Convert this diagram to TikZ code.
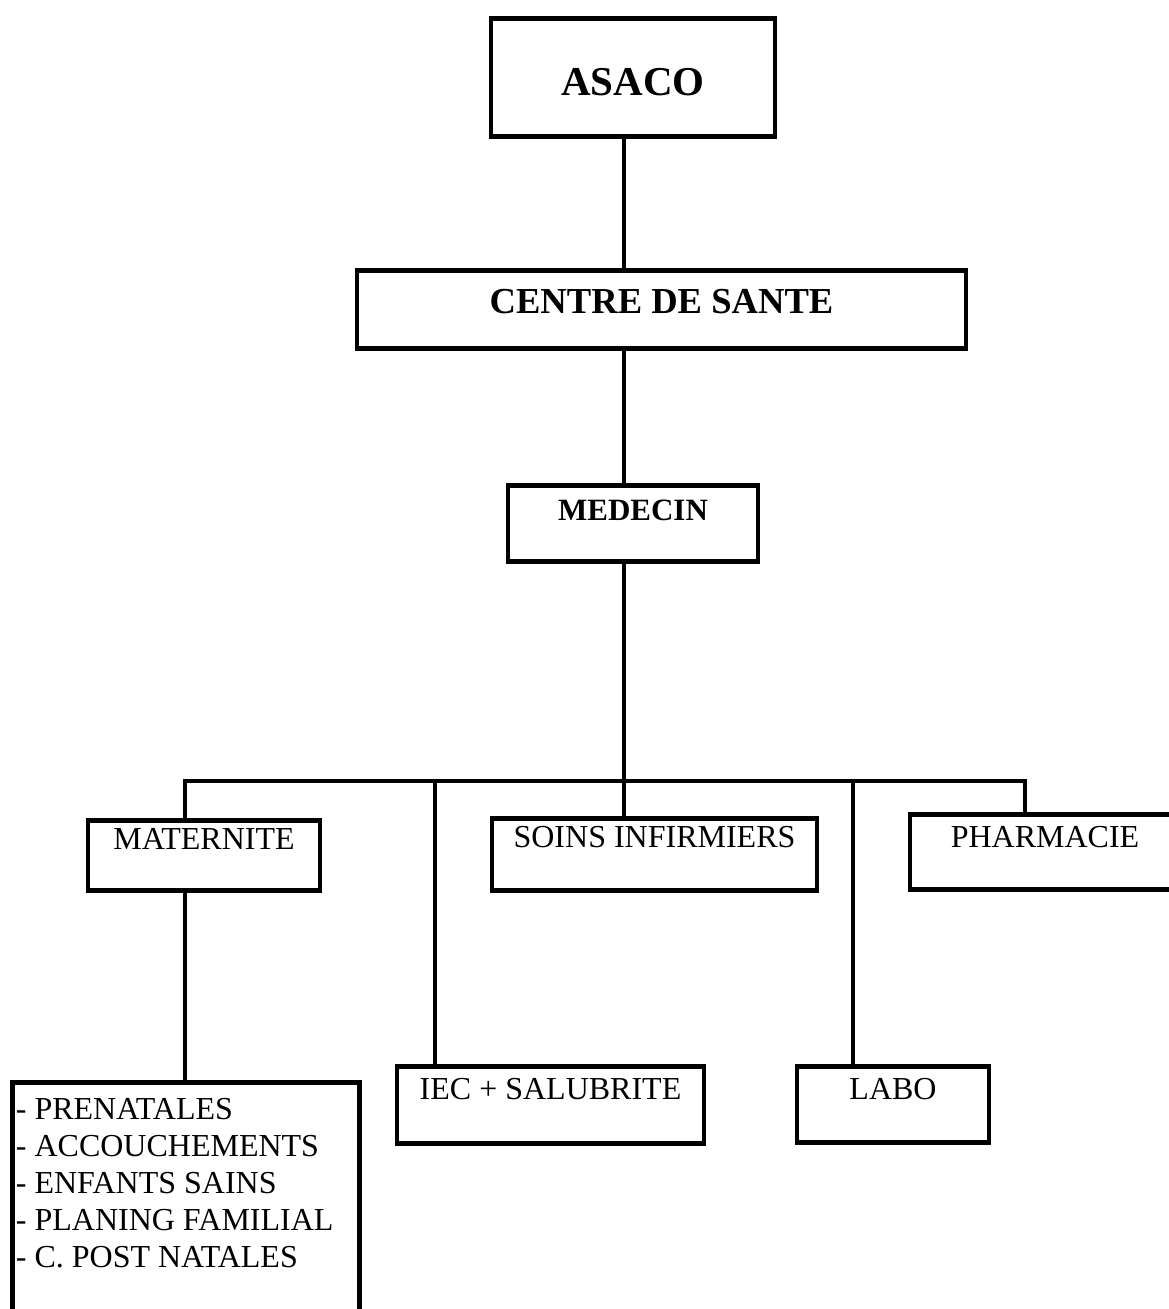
\documentclass[tikz,border=0pt]{standalone}
\usepackage{fontspec}
\setmainfont{Liberation Serif}
\begin{document}
\begin{tikzpicture}[x=.5pt,y=-.5pt,
   unit/.style={draw, line width=2.4pt, anchor=north, inner sep=0pt,
      font=\fontsize{16pt}{18.5pt}\selectfont},
   head/.style={unit, font=\bfseries\fontsize{#1}{#1}\selectfont},
   link/.style={line width=2pt, line cap=rect}]
   \useasboundingbox (0,0) rectangle (1168,1309);

   \node[head=20.5pt, minimum width=142pt, text height=38.5pt, text depth=20.5pt] (asaco) at (633,16) {ASACO};
   \node[head=18.3pt, minimum width=304.5pt, text height=21.5pt, text depth=17.5pt] (centre) at (661.5,268) {CENTRE DE SANTE};
   \node[head=15.5pt, minimum width=125pt, text height=17.5pt, text depth=20.5pt] (medecin) at (633,483) {MEDECIN};

   \node[unit, minimum width=116pt, text height=14.5pt, text depth=20.5pt] (maternite) at (204,818) {MATERNITE};
   \node[unit, minimum width=162.5pt, text height=14.5pt, text depth=21.5pt] (soins) at (654.5,816) {SOINS INFIRMIERS};
   \node[unit, minimum width=135pt, text height=16.5pt, text depth=21pt] (pharmacie) at (1045,812) {PHARMACIE};
   \node[unit, minimum width=153.5pt, text height=16.5pt, text depth=22pt] (iec) at (550.5,1064) {IEC + SALUBRITE};
   \node[unit, minimum width=96pt, text height=16.5pt, text depth=21.5pt] (labo) at (893,1064) {LABO};

   \node[unit, anchor=north west, minimum width=173.5pt, inner xsep=1.6pt, text height=18.5pt, text depth=111pt] (list) at (10,1080)
      {\parbox[t]{170pt}{- PRENATALES\\- ACCOUCHEMENTS\\- ENFANTS SAINS\\- PLANING FAMILIAL\\- C. POST NATALES}};

   \coordinate (hub) at (624,781);
   \draw[link] (asaco.south -| hub) -- (centre.north -| hub);
   \draw[link] (centre.south -| hub) -- (medecin.north -| hub);
   \draw[link] (medecin.south -| hub) -- (hub);

   \foreach \n/\x in {maternite/185,iec/435,soins/624,labo/853,pharmacie/1025}{
      \coordinate (j\n) at (\x,781);
      \draw[link] (j\n) -- (j\n |- \n.north);
   }
   \draw[link] (jmaternite) -- (jpharmacie);
   \draw[link] (maternite.south -| jmaternite) -- (list.north -| jmaternite);

\end{tikzpicture}
\end{document}
